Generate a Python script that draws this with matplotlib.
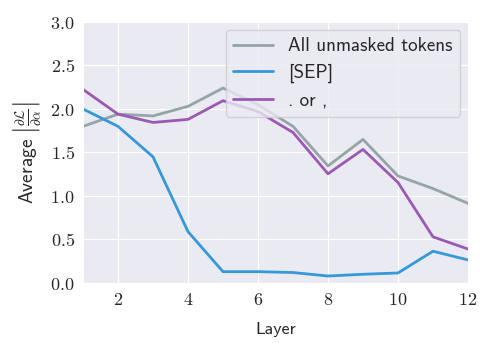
import matplotlib
matplotlib.use("Agg")
import matplotlib.pyplot as plt
import seaborn as sns

layers = [1, 2, 3, 4, 5, 6, 7, 8, 9, 10, 11, 12]
all_tokens = [1.80, 1.94, 1.92, 2.03, 2.24, 2.05, 1.80, 1.345, 1.65, 1.23, 1.085, 0.915]
sep_tokens = [2.00, 1.80, 1.45, 0.59, 0.13, 0.13, 0.12, 0.08, 0.10, 0.115, 0.365, 0.265]
punct_tokens = [2.225, 1.94, 1.845, 1.88, 2.095, 1.97, 1.73, 1.255, 1.535, 1.155, 0.53, 0.39]
series_labels = ["All unmasked tokens", "[SEP]", ". or ,"]
series_colors = ["#95a5a6", "#3498db", "#9b59b6"]
x_ticks = [2, 4, 6, 8, 10, 12]
y_ticks = [0.0, 0.5, 1.0, 1.5, 2.0, 2.5, 3.0]

sns.set_style("darkgrid")
plt.rcParams["mathtext.fontset"] = "cm"
plt.rcParams["axes.formatter.use_mathtext"] = True

fig = plt.figure(figsize=(5.0, 3.43), dpi=100)
ax = fig.add_axes([0.166, 0.175, 0.770, 0.761])

for vals, lab, col in zip([all_tokens, sep_tokens, punct_tokens], series_labels, series_colors):
    ax.plot(layers, vals, color=col, lw=2.0, label=lab)

ax.set_xlim(1, 12)
ax.set_ylim(0, 3.0)
ax.set_xticks(x_ticks)
ax.set_yticks(y_ticks)
ax.set_xticklabels([f"${t}$" for t in x_ticks], fontsize=13)
ax.set_yticklabels([f"${t:.1f}$" for t in y_ticks], fontsize=13)
ax.tick_params(axis="both", length=0, pad=6)

ax.set_xlabel("Layer", family="cmss10", fontsize=13, labelpad=9)
ax.set_ylabel(r"$\mathsf{Average}\ \left|\frac{\partial \mathcal{L}}{\partial \alpha}\right|$",
              fontsize=14, labelpad=5)

leg = ax.legend(loc="upper right", prop={"family": "cmss10", "size": 13.7},
                frameon=True, borderaxespad=0.4, handlelength=2.1,
                labelspacing=0.45, borderpad=0.4)
leg.get_frame().set_alpha(0.8)

fig.savefig("out.png", dpi=100)
